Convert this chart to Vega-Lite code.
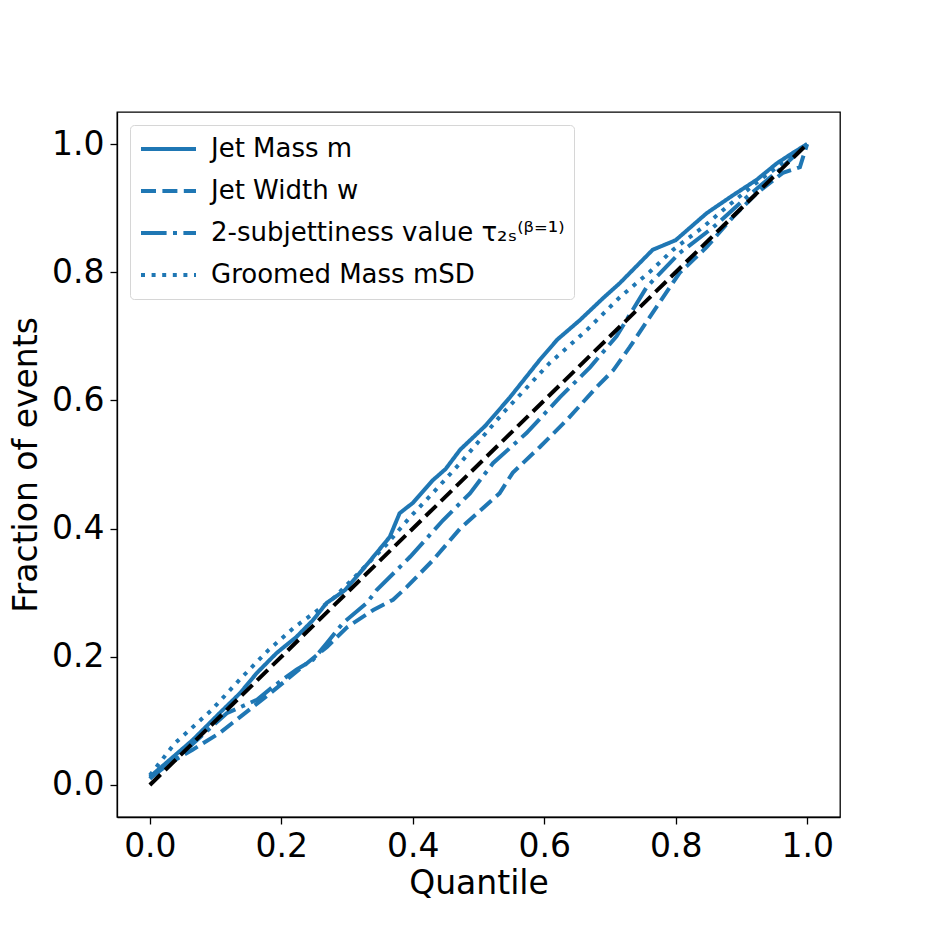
{
  "$schema": "https://vega.github.io/schema/vega-lite/v6.json",
  "width": 723,
  "height": 705,
  "autosize": "none",
  "padding": {"left": 117, "top": 112, "right": 94, "bottom": 117},
  "background": "white",
  "config": {
    "font": "DejaVu Sans",
    "view": {"stroke": "black", "strokeWidth": 1.3},
    "axis": {
      "grid": false,
      "domainColor": "black",
      "domainWidth": 1.3,
      "tickColor": "black",
      "tickWidth": 1.3,
      "tickSize": 7,
      "labelFontSize": 33,
      "labelColor": "black",
      "labelFont": "DejaVu Sans",
      "titleFont": "DejaVu Sans",
      "titleFontSize": 33,
      "titleFontWeight": "normal",
      "titleColor": "black",
      "labelPadding": 6
    }
  },
  "datasets": {
    "curves": [
      {"series": "Jet Mass m", "q": 0.0, "f": 0.0125},
      {"series": "Jet Mass m", "q": 0.03, "f": 0.039},
      {"series": "Jet Mass m", "q": 0.065, "f": 0.07},
      {"series": "Jet Mass m", "q": 0.106, "f": 0.112},
      {"series": "Jet Mass m", "q": 0.137, "f": 0.143},
      {"series": "Jet Mass m", "q": 0.163, "f": 0.175},
      {"series": "Jet Mass m", "q": 0.193, "f": 0.206},
      {"series": "Jet Mass m", "q": 0.223, "f": 0.231},
      {"series": "Jet Mass m", "q": 0.248, "f": 0.257},
      {"series": "Jet Mass m", "q": 0.269, "f": 0.284},
      {"series": "Jet Mass m", "q": 0.297, "f": 0.304},
      {"series": "Jet Mass m", "q": 0.332, "f": 0.346},
      {"series": "Jet Mass m", "q": 0.365, "f": 0.387},
      {"series": "Jet Mass m", "q": 0.38, "f": 0.424},
      {"series": "Jet Mass m", "q": 0.4, "f": 0.44},
      {"series": "Jet Mass m", "q": 0.43, "f": 0.475},
      {"series": "Jet Mass m", "q": 0.45, "f": 0.493},
      {"series": "Jet Mass m", "q": 0.472, "f": 0.523},
      {"series": "Jet Mass m", "q": 0.51, "f": 0.56},
      {"series": "Jet Mass m", "q": 0.548, "f": 0.605},
      {"series": "Jet Mass m", "q": 0.593, "f": 0.663},
      {"series": "Jet Mass m", "q": 0.62, "f": 0.695},
      {"series": "Jet Mass m", "q": 0.654, "f": 0.725},
      {"series": "Jet Mass m", "q": 0.69, "f": 0.76},
      {"series": "Jet Mass m", "q": 0.715, "f": 0.783},
      {"series": "Jet Mass m", "q": 0.765, "f": 0.835},
      {"series": "Jet Mass m", "q": 0.8, "f": 0.85},
      {"series": "Jet Mass m", "q": 0.847, "f": 0.892},
      {"series": "Jet Mass m", "q": 0.887, "f": 0.92},
      {"series": "Jet Mass m", "q": 0.923, "f": 0.944},
      {"series": "Jet Mass m", "q": 0.954, "f": 0.97},
      {"series": "Jet Mass m", "q": 0.978, "f": 0.986},
      {"series": "Jet Mass m", "q": 1.0, "f": 1.0},

      {"series": "Jet Width w", "q": 0.0, "f": 0.01},
      {"series": "Jet Width w", "q": 0.012, "f": 0.023},
      {"series": "Jet Width w", "q": 0.065, "f": 0.055},
      {"series": "Jet Width w", "q": 0.106, "f": 0.081},
      {"series": "Jet Width w", "q": 0.126, "f": 0.097},
      {"series": "Jet Width w", "q": 0.183, "f": 0.143},
      {"series": "Jet Width w", "q": 0.239, "f": 0.19},
      {"series": "Jet Width w", "q": 0.269, "f": 0.215},
      {"series": "Jet Width w", "q": 0.3, "f": 0.246},
      {"series": "Jet Width w", "q": 0.34, "f": 0.273},
      {"series": "Jet Width w", "q": 0.37, "f": 0.289},
      {"series": "Jet Width w", "q": 0.391, "f": 0.309},
      {"series": "Jet Width w", "q": 0.43, "f": 0.35},
      {"series": "Jet Width w", "q": 0.472, "f": 0.4},
      {"series": "Jet Width w", "q": 0.532, "f": 0.455},
      {"series": "Jet Width w", "q": 0.552, "f": 0.487},
      {"series": "Jet Width w", "q": 0.593, "f": 0.527},
      {"series": "Jet Width w", "q": 0.634, "f": 0.569},
      {"series": "Jet Width w", "q": 0.68, "f": 0.621},
      {"series": "Jet Width w", "q": 0.705, "f": 0.647},
      {"series": "Jet Width w", "q": 0.73, "f": 0.683},
      {"series": "Jet Width w", "q": 0.771, "f": 0.746},
      {"series": "Jet Width w", "q": 0.806, "f": 0.799},
      {"series": "Jet Width w", "q": 0.847, "f": 0.839},
      {"series": "Jet Width w", "q": 0.887, "f": 0.886},
      {"series": "Jet Width w", "q": 0.923, "f": 0.923},
      {"series": "Jet Width w", "q": 0.963, "f": 0.955},
      {"series": "Jet Width w", "q": 0.989, "f": 0.964},
      {"series": "Jet Width w", "q": 1.0, "f": 1.0},

      {"series": "2-subjettiness value τ₂ₛ⁽ᵝ⁼¹⁾", "q": 0.0, "f": 0.01},
      {"series": "2-subjettiness value τ₂ₛ⁽ᵝ⁼¹⁾", "q": 0.05, "f": 0.05},
      {"series": "2-subjettiness value τ₂ₛ⁽ᵝ⁼¹⁾", "q": 0.117, "f": 0.112},
      {"series": "2-subjettiness value τ₂ₛ⁽ᵝ⁼¹⁾", "q": 0.163, "f": 0.133},
      {"series": "2-subjettiness value τ₂ₛ⁽ᵝ⁼¹⁾", "q": 0.187, "f": 0.153},
      {"series": "2-subjettiness value τ₂ₛ⁽ᵝ⁼¹⁾", "q": 0.223, "f": 0.18},
      {"series": "2-subjettiness value τ₂ₛ⁽ᵝ⁼¹⁾", "q": 0.248, "f": 0.195},
      {"series": "2-subjettiness value τ₂ₛ⁽ᵝ⁼¹⁾", "q": 0.269, "f": 0.221},
      {"series": "2-subjettiness value τ₂ₛ⁽ᵝ⁼¹⁾", "q": 0.294, "f": 0.253},
      {"series": "2-subjettiness value τ₂ₛ⁽ᵝ⁼¹⁾", "q": 0.33, "f": 0.284},
      {"series": "2-subjettiness value τ₂ₛ⁽ᵝ⁼¹⁾", "q": 0.345, "f": 0.304},
      {"series": "2-subjettiness value τ₂ₛ⁽ᵝ⁼¹⁾", "q": 0.396, "f": 0.356},
      {"series": "2-subjettiness value τ₂ₛ⁽ᵝ⁼¹⁾", "q": 0.446, "f": 0.413},
      {"series": "2-subjettiness value τ₂ₛ⁽ᵝ⁼¹⁾", "q": 0.487, "f": 0.455},
      {"series": "2-subjettiness value τ₂ₛ⁽ᵝ⁼¹⁾", "q": 0.522, "f": 0.502},
      {"series": "2-subjettiness value τ₂ₛ⁽ᵝ⁼¹⁾", "q": 0.573, "f": 0.549},
      {"series": "2-subjettiness value τ₂ₛ⁽ᵝ⁼¹⁾", "q": 0.624, "f": 0.605},
      {"series": "2-subjettiness value τ₂ₛ⁽ᵝ⁼¹⁾", "q": 0.67, "f": 0.652},
      {"series": "2-subjettiness value τ₂ₛ⁽ᵝ⁼¹⁾", "q": 0.71, "f": 0.7},
      {"series": "2-subjettiness value τ₂ₛ⁽ᵝ⁼¹⁾", "q": 0.756, "f": 0.777},
      {"series": "2-subjettiness value τ₂ₛ⁽ᵝ⁼¹⁾", "q": 0.806, "f": 0.83},
      {"series": "2-subjettiness value τ₂ₛ⁽ᵝ⁼¹⁾", "q": 0.857, "f": 0.87},
      {"series": "2-subjettiness value τ₂ₛ⁽ᵝ⁼¹⁾", "q": 0.908, "f": 0.917},
      {"series": "2-subjettiness value τ₂ₛ⁽ᵝ⁼¹⁾", "q": 0.958, "f": 0.96},
      {"series": "2-subjettiness value τ₂ₛ⁽ᵝ⁼¹⁾", "q": 1.0, "f": 1.0},

      {"series": "Groomed Mass mSD", "q": 0.0, "f": 0.015},
      {"series": "Groomed Mass mSD", "q": 0.038, "f": 0.065},
      {"series": "Groomed Mass mSD", "q": 0.094, "f": 0.117},
      {"series": "Groomed Mass mSD", "q": 0.14, "f": 0.168},
      {"series": "Groomed Mass mSD", "q": 0.18, "f": 0.21},
      {"series": "Groomed Mass mSD", "q": 0.22, "f": 0.246},
      {"series": "Groomed Mass mSD", "q": 0.277, "f": 0.289},
      {"series": "Groomed Mass mSD", "q": 0.317, "f": 0.33},
      {"series": "Groomed Mass mSD", "q": 0.36, "f": 0.375},
      {"series": "Groomed Mass mSD", "q": 0.396, "f": 0.418},
      {"series": "Groomed Mass mSD", "q": 0.43, "f": 0.455},
      {"series": "Groomed Mass mSD", "q": 0.472, "f": 0.502},
      {"series": "Groomed Mass mSD", "q": 0.537, "f": 0.58},
      {"series": "Groomed Mass mSD", "q": 0.608, "f": 0.658},
      {"series": "Groomed Mass mSD", "q": 0.665, "f": 0.71},
      {"series": "Groomed Mass mSD", "q": 0.715, "f": 0.761},
      {"series": "Groomed Mass mSD", "q": 0.76, "f": 0.8},
      {"series": "Groomed Mass mSD", "q": 0.796, "f": 0.835},
      {"series": "Groomed Mass mSD", "q": 0.841, "f": 0.87},
      {"series": "Groomed Mass mSD", "q": 0.878, "f": 0.902},
      {"series": "Groomed Mass mSD", "q": 0.928, "f": 0.944},
      {"series": "Groomed Mass mSD", "q": 0.969, "f": 0.975},
      {"series": "Groomed Mass mSD", "q": 1.0, "f": 1.0}
    ],
    "diag": [
      {"q": 0.0, "f": 0.0},
      {"q": 1.0, "f": 1.0}
    ]
  },
  "layer": [
    {
      "data": {"name": "curves"},
      "mark": {"type": "line", "strokeWidth": 4, "color": "#1f77b4", "clip": true},
      "encoding": {
        "x": {
          "field": "q", "type": "quantitative",
          "scale": {"domain": [-0.05, 1.05], "nice": false, "zero": false},
          "axis": {"title": "Quantile", "values": [0, 0.2, 0.4, 0.6, 0.8, 1.0], "format": ".1f", "titlePadding": 4}
        },
        "y": {
          "field": "f", "type": "quantitative",
          "scale": {"domain": [-0.05, 1.05], "nice": false, "zero": false},
          "axis": {"title": "Fraction of events", "values": [0, 0.2, 0.4, 0.6, 0.8, 1.0], "format": ".1f", "titlePadding": 8}
        },
        "strokeDash": {
          "field": "series", "type": "nominal",
          "scale": {
            "domain": ["Jet Mass m", "Jet Width w", "2-subjettiness value τ₂ₛ⁽ᵝ⁼¹⁾", "Groomed Mass mSD"],
            "range": [[1, 0], [15, 6.4], [25.6, 6.4, 4, 6.4], [4, 6.6]]
          },
          "legend": {
            "title": null,
            "orient": "top-left",
            "offset": 13,
            "symbolType": "stroke",
            "symbolSize": 3025,
            "symbolStrokeWidth": 4,
            "symbolStrokeColor": "#1f77b4",
            "symbolFillColor": "transparent",
            "labelFontSize": 26,
            "labelFont": "DejaVu Sans",
            "labelColor": "black",
            "labelOffset": 13,
            "labelLimit": 700,
            "padding": 9,
            "strokeColor": "#d6d6d6",
            "fillColor": "white",
            "cornerRadius": 4,
            "clipHeight": 30,
            "rowPadding": 12
          }
        }
      }
    },
    {
      "data": {"name": "diag"},
      "mark": {"type": "line", "strokeWidth": 4, "color": "black", "strokeDash": [15, 6.4]},
      "encoding": {
        "x": {"field": "q", "type": "quantitative"},
        "y": {"field": "f", "type": "quantitative"}
      }
    }
  ]
}
